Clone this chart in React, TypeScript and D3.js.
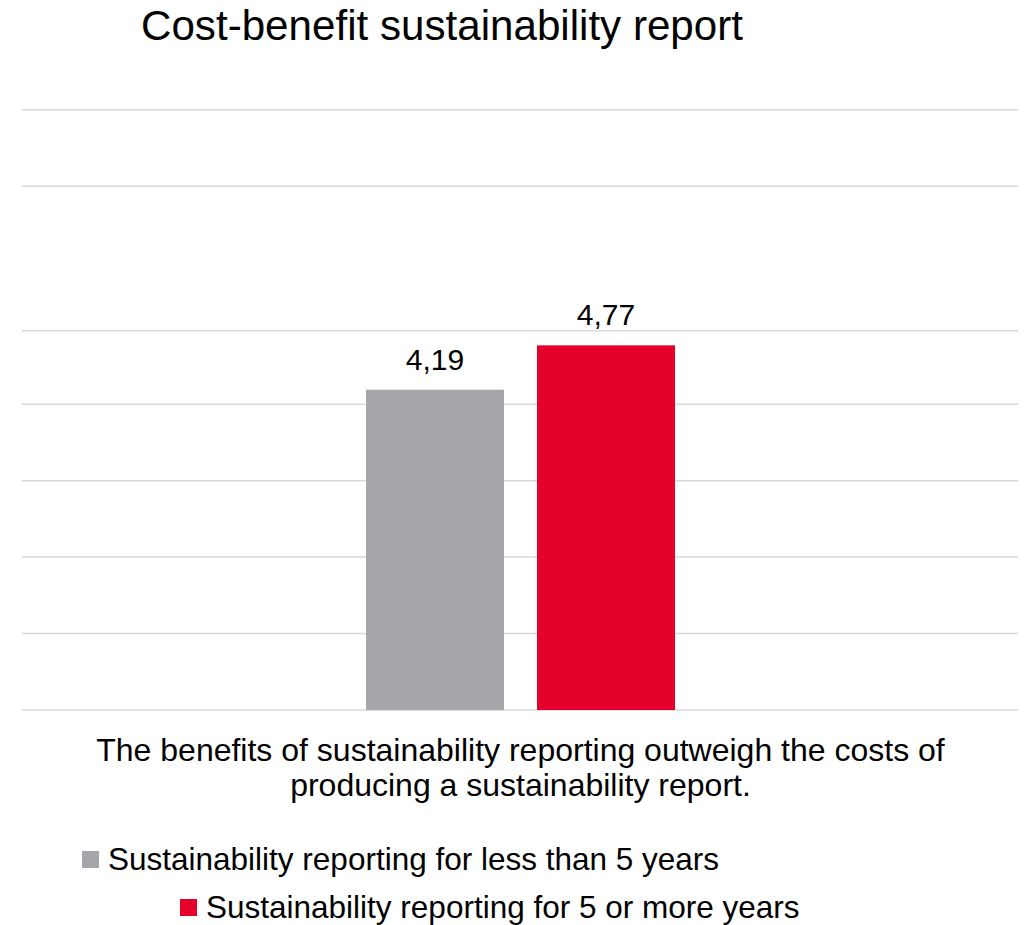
import React from "react";
import * as d3 from "d3";

const title = "Cost-benefit sustainability report";
const categoryLines = [
  "The benefits of sustainability reporting outweigh the costs of",
  "producing a sustainability report.",
];
const seriesNames = [
  "Sustainability reporting for less than 5 years",
  "Sustainability reporting for 5 or more years",
];
const seriesValues = [4.19, 4.77];
const seriesLabels = ["4,19", "4,77"];
const seriesColors = ["#A5A6A9", "#E4002B"];
const gridValues = [0, 1, 2, 3, 4, 4.96, 6.85, 7.85];

const W = 1025;
const H = 925;
const FONT = "'Liberation Sans', Arial, sans-serif";

export default function App() {
  const plotLeft = 22;
  const plotRight = 1018;
  const baseY = 710;
  const unit = 76.45;
  const y = d3.scaleLinear().domain([0, 8]).range([baseY, baseY - 8 * unit]);
  const x = d3
    .scaleBand<string>()
    .domain(seriesNames)
    .range([366, 675])
    .paddingInner(33 / 171)
    .paddingOuter(0);

  return (
    <svg
      width={W}
      height={H}
      style={{ position: "absolute", left: 0, top: 0, background: "#fff" }}
      fontFamily={FONT}
    >
      <text x={141} y={40} fontSize={42} fill="#000" textLength={602} lengthAdjust="spacingAndGlyphs">
        {title}
      </text>
      {gridValues.map((v, i) => (
        <line
          key={i}
          x1={plotLeft}
          x2={plotRight}
          y1={y(v)}
          y2={y(v)}
          stroke="#D9D9D9"
          strokeWidth={1.5}
        />
      ))}
      {seriesNames.map((s, i) => (
        <g key={s}>
          <rect
            x={x(s)}
            y={y(seriesValues[i])}
            width={x.bandwidth()}
            height={baseY - y(seriesValues[i])}
            fill={seriesColors[i]}
          />
          <text
            x={(x(s) as number) + x.bandwidth() / 2}
            y={y(seriesValues[i]) - 20}
            fontSize={30}
            textAnchor="middle"
            fill="#000"
          >
            {seriesLabels[i]}
          </text>
        </g>
      ))}
      {categoryLines.map((l, i) => (
        <text
          key={i}
          x={520.5}
          y={761 + i * 35}
          fontSize={32}
          textAnchor="middle"
          fill="#000"
        >
          {l}
        </text>
      ))}
      {seriesNames.map((s, i) => {
        const lx = [82, 180][i];
        const ly = [870, 918][i];
        return (
          <g key={s}>
            <rect x={lx} y={ly - 19} width={17} height={17} fill={seriesColors[i]} />
            <text x={lx + 26} y={ly} fontSize={31.5} fill="#000">
              {s}
            </text>
          </g>
        );
      })}
    </svg>
  );
}
